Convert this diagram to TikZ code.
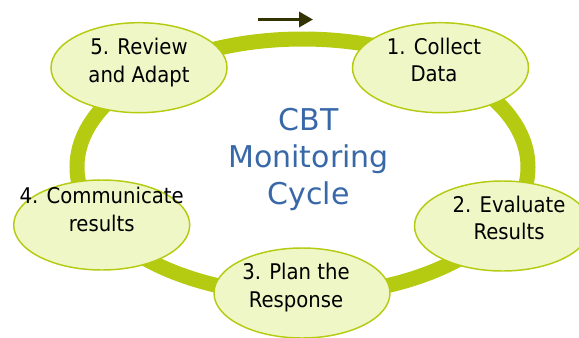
\documentclass[tikz,border=0pt]{standalone}
\usepackage{fontspec}
\usepackage{tikz}
\usetikzlibrary{arrows.meta,shapes.geometric}
\newfontfamily\bubfont[FakeStretch=0.91]{DejaVu Sans}
\newfontfamily\titlefont{DejaVu Sans}
\definecolor{ringgreen}{HTML}{B5CB12}
\definecolor{bubfill}{HTML}{F0F7C6}
\definecolor{titleblue}{HTML}{3868A8}
\definecolor{arrowdark}{HTML}{333300}
\tikzset{>=latex}
\tikzset{
	ring/.style={draw=ringgreen,line width=11.25pt},
	bubble/.style={ellipse,draw=ringgreen,line width=1.1pt,fill=bubfill,
		minimum width=132pt,minimum height=67.5pt,inner sep=0pt},
	bubtext/.style={align=center,inner sep=0pt,
		font=\bubfont\fontsize{16.2pt}{20.8pt}\selectfont},
	cycletitle/.style={align=center,inner sep=0pt,text=titleblue,
		font=\titlefont\fontsize{22.5pt}{27.75pt}\selectfont}
}

\begin{document}
\begin{tikzpicture}[x=0.75pt,y=-0.75pt]
            \useasboundingbox (0,0) rectangle (579,337);
            \draw[ring] (302.5,167) ellipse [x radius=225.5, y radius=128];
            \node[bubble] (E1) at (440.5,67.7) {};
            \node[bubble] (E2) at (502.5,226) {};
            \node[bubble] (E3) at (302,293) {};
            \node[bubble] (E4) at (101.7,225) {};
            \node[bubble] (E5) at (139,67.7) {};
            \node[bubtext] (T1) at (434,60) {1. Collect\\Data};
            \node[bubtext] (T2) at (509,218) {2. Evaluate\\Results};
            \node[bubtext] (T3) at (296,287.2) {3. Plan the\\Response};
            \node[bubtext] (T4) at (101.7,209.7) {4. Communicate\\results};
            \node[bubtext] (T5) at (139,62.5) {5. Review\\and Adapt};
            \node[cycletitle] (C) at (308.5,159) {CBT\\Monitoring\\Cycle};
            \coordinate (A) at (258,19.5);
            \coordinate (B) at (313,19.5);
            \draw[arrowdark,line width=2.5pt,-{Triangle[length=10.5pt,width=11.25pt]}] (A) -- (B);
        \end{tikzpicture}
\end{document}
